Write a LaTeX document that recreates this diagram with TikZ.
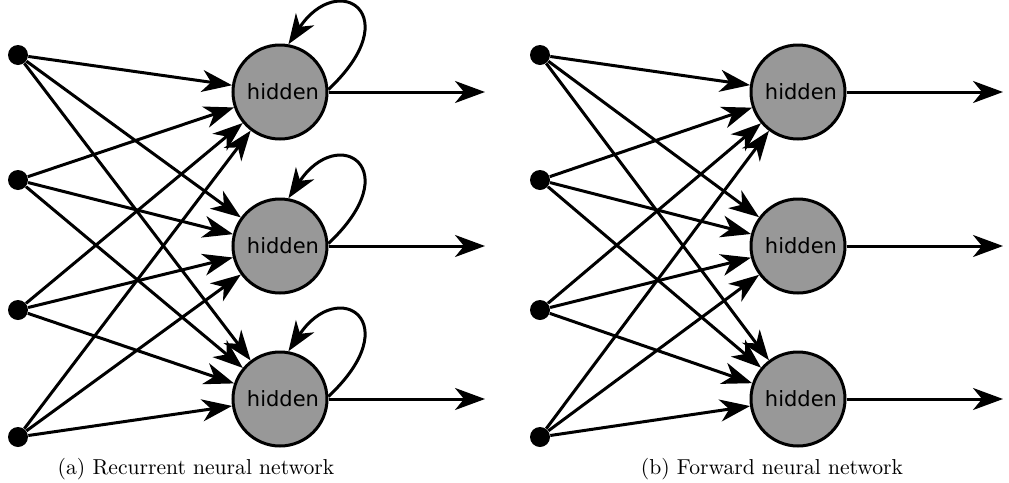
\documentclass[tikz,border=0pt]{standalone}
\usepackage{fontspec}
\newfontfamily\hfont{DejaVu Sans}
\usetikzlibrary{arrows.meta}
\definecolor{hgray}{RGB}{152,152,152}
\begin{document}
\begin{tikzpicture}[x=0.5pt,y=0.5pt,
  hid/.style={circle,draw=black,fill=hgray,line width=1.5pt,minimum size=47pt,inner sep=0pt,font=\hfont\fontsize{10.5}{12}\selectfont},
  inp/.style={circle,fill=black,minimum size=10pt,inner sep=0pt},
  conn/.style={line width=1.5pt,-{Stealth[length=15pt,width=11pt,inset=4.5pt]}},
  captxt/.style={font=\fontsize{10.8}{12}\selectfont}]
\useasboundingbox (0,0) rectangle (1009,-483);
\foreach \p/\dx/\hx in {a/18/280, b/540/798} {
  \foreach \i/\y in {1/55,2/180,3/310,4/437}
    \node[inp] (\p-in\i) at (\dx,-\y) {};
  \foreach \j/\y in {1/92,2/246,3/399} {
    \node[hid] (\p-h\j) at (\hx,-\y) {\hspace{3pt}hidden};
    \coordinate (\p-o\j) at (\hx+205,-\y);
  }
  \foreach \i in {1,...,4}
    \foreach \j in {1,2,3}
      \draw[conn] (\p-in\i) -- (\p-h\j);
  \foreach \j in {1,2,3}
    \draw[conn] (\p-h\j) -- (\p-o\j);
}
\foreach \j in {1,2,3}
  \draw[conn] (a-h\j.3) .. controls +(80,75) and +(50,75) .. (a-h\j.80);
\node[captxt] (capa) at (196,-469) {(a) Recurrent neural network};
\node[captxt] (capb) at (772,-469) {(b) Forward neural network};
\end{tikzpicture}
\end{document}
